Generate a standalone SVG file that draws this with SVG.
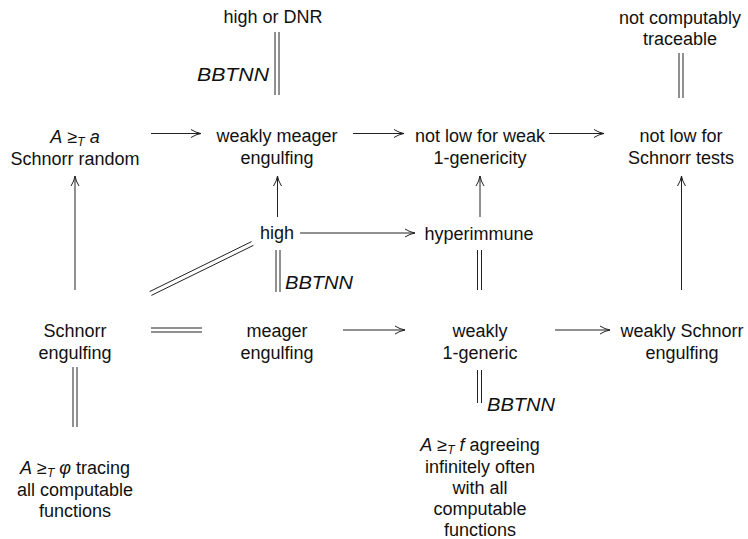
<svg xmlns="http://www.w3.org/2000/svg" width="748" height="539" viewBox="0 0 748 539">
  <style>
    .t { font-family: "Liberation Sans", Arial, sans-serif; font-size: 18px; fill: #111; text-anchor: middle; }
    .m { font-style: italic; }
    .sub { font-style: italic; font-size: 12px; }
    .lbl { font-family: "Liberation Sans", Arial, sans-serif; font-size: 18px; font-style: italic; fill: #111; }
    .ar { fill: none; stroke: #222; stroke-width: 1; marker-end: url(#head); }
    .eq { fill: none; stroke: #222; stroke-width: 1; }
  </style>
  <defs>
    <marker id="head" markerUnits="userSpaceOnUse" markerWidth="14" markerHeight="12" viewBox="-11 -6 12 12" refX="0" refY="0" orient="auto">
      <path d="M -10,-4 Q -5,-0.8 0,0 Q -5,0.8 -10,4" fill="none" stroke="#222" stroke-width="1"/>
    </marker>
  </defs>

  <rect width="748" height="539" fill="#fff"/>

  <!-- connectors -->
  <g id="connectors">
    <!-- implication arrows -->
    <line class="ar" x1="151" y1="133.5" x2="201" y2="133.5"/>
    <line class="ar" x1="353" y1="133.5" x2="404" y2="133.5"/>
    <line class="ar" x1="549" y1="133.5" x2="604" y2="133.5"/>
    <line class="ar" x1="75" y1="290" x2="75" y2="176"/>
    <line class="ar" x1="277.5" y1="217" x2="277.5" y2="176"/>
    <line class="ar" x1="480" y1="217" x2="480" y2="176"/>
    <line class="ar" x1="681.5" y1="290" x2="681.5" y2="176"/>
    <line class="ar" x1="300" y1="233" x2="415" y2="233"/>
    <line class="ar" x1="343" y1="330" x2="405" y2="330"/>
    <line class="ar" x1="555" y1="330" x2="610" y2="330"/>

    <!-- equivalences -->
    <path class="eq" d="M275,32 V95 M279,32 V95"/>
    <path class="eq" d="M679,53 V98 M683,53 V98"/>
    <path class="eq" d="M276,250 V292 M280,250 V292"/>
    <path class="eq" d="M477.5,250 V290 M481.5,250 V290"/>
    <path class="eq" d="M477.5,370 V403 M481.5,370 V403"/>
    <path class="eq" d="M73,367 V427 M77,367 V427"/>
    <path class="eq" d="M151,328 H202 M151,332 H202"/>
    <path class="eq" d="M251.6,241.6 L149.6,291.6 M253.4,245.4 L151.4,295.4"/>

    <!-- labels on equivalences -->
    <text class="lbl" x="197" y="81" textLength="72" lengthAdjust="spacingAndGlyphs">BBTNN</text>
    <text class="lbl" x="285" y="289" textLength="68" lengthAdjust="spacingAndGlyphs">BBTNN</text>
    <text class="lbl" x="487" y="411" textLength="68" lengthAdjust="spacingAndGlyphs">BBTNN</text>
  </g>

  <!-- nodes -->
  <g id="n-high-dnr"><text class="t" x="273" y="23">high or DNR</text></g>
  <g id="n-not-ct">
    <text class="t" x="680" y="24">not computably</text>
    <text class="t" x="680" y="45">traceable</text>
  </g>
  <g id="n-sr">
    <text class="t" x="75" y="143"><tspan class="m">A</tspan> ≥<tspan class="sub" dy="3">T</tspan><tspan dy="-3"> </tspan><tspan class="m">a</tspan></text>
    <text class="t" x="75" y="165">Schnorr random</text>
  </g>
  <g id="n-wme">
    <text class="t" x="277" y="142">weakly meager</text>
    <text class="t" x="277" y="164">engulfing</text>
  </g>
  <g id="n-nlw">
    <text class="t" x="480" y="142">not low for weak</text>
    <text class="t" x="480" y="164">1-genericity</text>
  </g>
  <g id="n-nls">
    <text class="t" x="681" y="142">not low for</text>
    <text class="t" x="681" y="164">Schnorr tests</text>
  </g>
  <g id="n-high"><text class="t" x="277" y="239">high</text></g>
  <g id="n-hyp"><text class="t" x="479" y="240">hyperimmune</text></g>
  <g id="n-se">
    <text class="t" x="75" y="337">Schnorr</text>
    <text class="t" x="75" y="359">engulfing</text>
  </g>
  <g id="n-me">
    <text class="t" x="277" y="337">meager</text>
    <text class="t" x="277" y="359">engulfing</text>
  </g>
  <g id="n-w1g">
    <text class="t" x="480" y="337">weakly</text>
    <text class="t" x="480" y="359">1-generic</text>
  </g>
  <g id="n-wse">
    <text class="t" x="682" y="337">weakly Schnorr</text>
    <text class="t" x="682" y="359">engulfing</text>
  </g>
  <g id="n-trace">
    <text class="t" x="75" y="474"><tspan class="m">A</tspan> ≥<tspan class="sub" dy="3">T</tspan><tspan dy="-3"> </tspan><tspan class="m">φ</tspan> tracing</text>
    <text class="t" x="75" y="496">all computable</text>
    <text class="t" x="75" y="517">functions</text>
  </g>
  <g id="n-agree">
    <text class="t" x="480" y="451"><tspan class="m">A</tspan> ≥<tspan class="sub" dy="3">T</tspan><tspan dy="-3"> </tspan><tspan class="m">f</tspan> agreeing</text>
    <text class="t" x="480" y="473">infinitely often</text>
    <text class="t" x="480" y="494">with all</text>
    <text class="t" x="480" y="515">computable</text>
    <text class="t" x="480" y="536">functions</text>
  </g>
</svg>
